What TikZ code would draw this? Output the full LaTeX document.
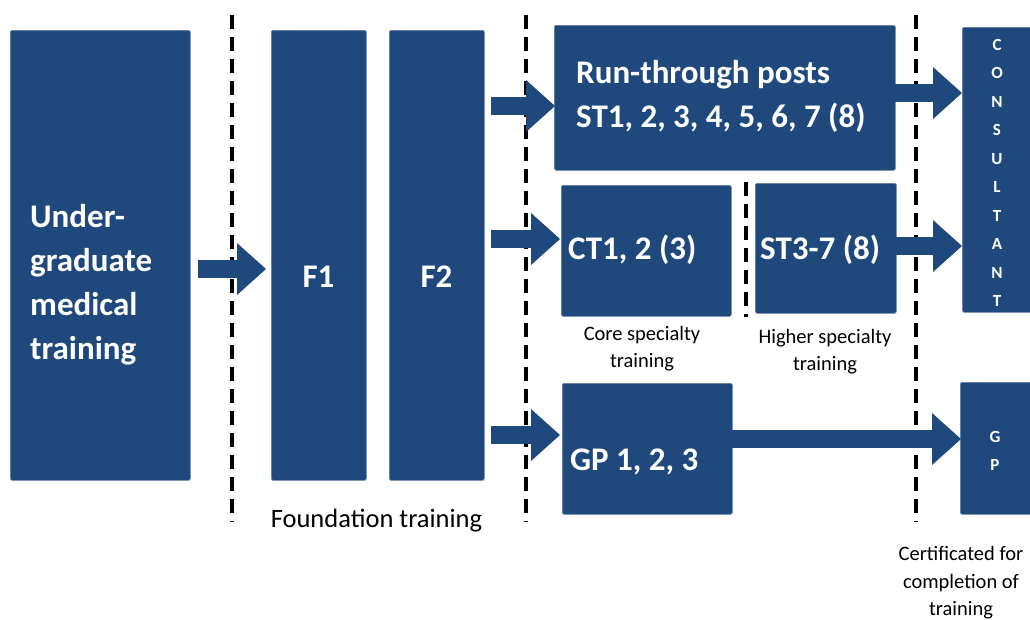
\documentclass[tikz,border=0pt]{standalone}
\usepackage{fontspec}
\setmainfont{Carlito}
\usetikzlibrary{arrows.meta}
\definecolor{boxblue}{HTML}{1F497D}
\begin{document}
\begin{tikzpicture}[x=1pt,y=-1pt,
  box/.style={fill=boxblue, draw=boxblue!70!white, line width=0.6pt, rounded corners=1.5pt, inner sep=0pt, anchor=north west},
  big/.style={text=white, font=\bfseries\fontsize{33}{40}\selectfont, inner sep=0pt, anchor=base west},
  bigc/.style={big, anchor=base},
  letter/.style={text=white, font=\bfseries\fontsize{17}{20}\selectfont, inner sep=0pt, anchor=base},
  small/.style={text=black, font=\fontsize{20.5}{24}\selectfont, inner sep=0pt, anchor=base},
  divider/.style={draw=black, line width=3.5pt, dash pattern=on 13.5pt off 8.5pt},
  barrow/.style={draw=boxblue, line width=18pt, -{Triangle[length=29pt,width=52pt,line width=0pt]}}
]
\useasboundingbox (0,0) rectangle (1030,619);

% dividers
\draw[divider] (232,15) -- (232,522);
\draw[divider] (526,15) -- (526,522);
\draw[divider] (916,15) -- (916,522);
\draw[divider] (746,182) -- (746,317);

% boxes
\node[box, minimum width=180pt, minimum height=450pt] (ug) at (10,30) {};
\node[box, minimum width=95pt, minimum height=450pt] (f1) at (271,30) {};
\node[box, minimum width=95pt, minimum height=450pt] (f2) at (389,30) {};
\node[box, minimum width=341pt, minimum height=145pt] (run) at (554,25) {};
\node[box, minimum width=170pt, minimum height=131pt] (ct) at (561,185) {};
\node[box, minimum width=141pt, minimum height=130pt] (st) at (755,183) {};
\node[box, minimum width=170pt, minimum height=131pt] (gp) at (562,383) {};
\node[box, minimum width=74pt, minimum height=285pt] (cons) at (962,27) {};
\node[box, minimum width=74pt, minimum height=132pt] (gpc) at (960,382) {};

% box texts
\node[big] (u1) at (30,227) {Under-};
\node[big] (u2) at (30,271) {graduate};
\node[big] (u3) at (30,315) {medical};
\node[big] (u4) at (30,359) {training};
\node[bigc] (tf1) at (318.5,287) {F1};
\node[bigc] (tf2) at (436.5,287) {F2};
\node[big] (r1) at (576,83) {Run-through posts};
\node[big] (r2) at (576,127) {ST1, 2, 3, 4, 5, 6, 7 (8)};
\node[big] (tct) at (568,259) {CT1, 2 (3)};
\node[big] (tst) at (760,259) {ST3-7 (8)};
\node[big] (tgp) at (570,470) {GP 1, 2, 3};

% CONSULTANT letters
\foreach \l [count=\i from 0] in {C,O,N,S,U,L,T,A,N,T}
  \node[letter] (c\i) at (997,50+28.55*\i) {\l};
\node[letter] (g1) at (995,442) {G};
\node[letter] (g2) at (995,470) {P};

% labels
\node[small] (l1) at (642,340) {Core specialty};
\node[small] (l2) at (642,367) {training};
\node[small] (l3) at (825,343) {Higher specialty};
\node[small] (l4) at (825,370) {training};
\node[small] (l5) at (961,560) {Certificated for};
\node[small] (l6) at (961,588) {completion of};
\node[small] (l7) at (961,615) {training};
\node[small, font=\fontsize{26.5}{30}\selectfont] (lf) at (376.5,527) {Foundation training};

% arrow end points
\coordinate (a1s) at (198,269); \coordinate (a1e) at (266,269);
\coordinate (a2s) at (491,106); \coordinate (a2e) at (555,106);
\coordinate (a3s) at (491,239); \coordinate (a3e) at (560,239);
\coordinate (a4s) at (491,435); \coordinate (a4e) at (560,435);
\coordinate (a5s) at (895,93);  \coordinate (a5e) at (962,93);
\coordinate (a6s) at (895,246); \coordinate (a6e) at (962,246);
\coordinate (a7s) at (732,439); \coordinate (a7e) at (961,439);

\draw[barrow] (a1s) -- (a1e);
\draw[barrow] (a2s) -- (a2e);
\draw[barrow] (a3s) -- (a3e);
\draw[barrow] (a4s) -- (a4e);
\draw[barrow] (a5s) -- (a5e);
\draw[barrow] (a6s) -- (a6e);
\draw[barrow] (a7s) -- (a7e);
\end{tikzpicture}
\end{document}
